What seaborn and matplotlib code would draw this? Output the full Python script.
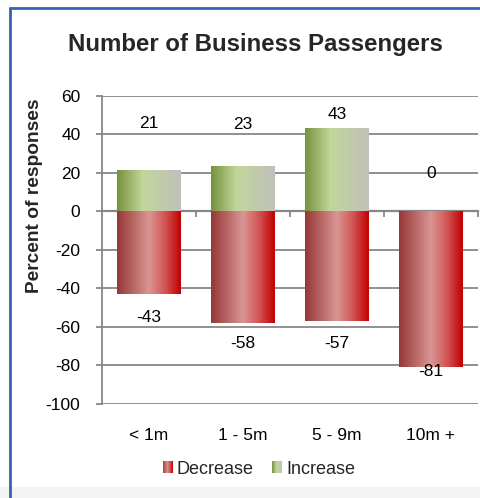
import matplotlib
matplotlib.use("Agg")
import matplotlib.pyplot as plt
import numpy as np
import pandas as pd
import seaborn as sns
from matplotlib.colors import LinearSegmentedColormap
from matplotlib.legend_handler import HandlerBase
from matplotlib.lines import Line2D
from matplotlib.patches import Rectangle

categories = ["< 1m", "1 - 5m", "5 - 9m", "10m +"]
decrease = [-43, -58, -57, -81]
increase = [21, 23, 43, 0]
series = ["Decrease", "Increase"]

# label nudges (points), the source chart places them unevenly
dec_offsets = [-17, -15, -16, -3]
inc_offsets = [34, 31, 10, 27]

grid_grey = "#878787"
dec_cmap = LinearSegmentedColormap.from_list(
    "dec", [(0, "#953735"), (0.5, "#D99694"), (0.75, "#D35555"), (1, "#C00000")])
inc_cmap = LinearSegmentedColormap.from_list(
    "inc", [(0, "#76923C"), (0.4, "#C3D69B"), (1, "#C0C0BA")])
cmaps = {"Decrease": dec_cmap, "Increase": inc_cmap}


class GradientHandler(HandlerBase):
    def __init__(self, cmap):
        super().__init__()
        self.cmap = cmap

    def create_artists(self, legend, orig_handle, xdescent, ydescent,
                       width, height, fontsize, trans):
        n = 12
        return [Rectangle((-xdescent + i * width / n, -ydescent), width / n, height,
                          facecolor=self.cmap((i + 0.5) / n), edgecolor="none",
                          transform=trans) for i in range(n)]


sns.set_style("white")
plt.rcParams["font.family"] = ["Liberation Sans", "DejaVu Sans"]
plt.rcParams["axes.unicode_minus"] = False

df = pd.DataFrame({
    "category": categories * 2,
    "series": [series[0]] * len(categories) + [series[1]] * len(categories),
    "value": decrease + increase,
})

fig = plt.figure(figsize=(4.8, 4.98), dpi=100)
ax = fig.add_axes([0.2125, 0.1888, 0.7833, 0.6185])
sns.barplot(data=df, x="category", y="value", hue="series", hue_order=series,
            order=categories, palette={"Decrease": "#C0504D", "Increase": "#9BBB59"},
            dodge=False, width=0.68, errorbar=None, ax=ax)

handles, labels = ax.get_legend_handles_labels()
ax.get_legend().remove()

grad = np.linspace(0, 1, 256).reshape(1, -1)
for name, container, vals, offs in zip(series, ax.containers,
                                       [decrease, increase], [dec_offsets, inc_offsets]):
    for bar, v, off in zip(container, vals, offs):
        x0, w = bar.get_x(), bar.get_width()
        y0, h = bar.get_y(), bar.get_height()
        bar.set_facecolor("none")
        bar.set_edgecolor("none")
        if h != 0:
            ax.imshow(grad, extent=[x0, x0 + w, min(y0, y0 + h), max(y0, y0 + h)],
                      aspect="auto", cmap=cmaps[name], clip_path=bar, zorder=2)
        ax.annotate(f"{v}", (x0 + w / 2, y0 + h), xytext=(0, off),
                    textcoords="offset points", ha="center", va="center",
                    fontsize=12.5, color="black")

ax.set_xlim(-0.5, len(categories) - 0.5)
ax.set_ylim(-100, 60)
ax.set_yticks(range(-100, 61, 20))
ax.set_xlabel("")
ax.set_ylabel("")
ax.set_axisbelow(True)
ax.yaxis.grid(True, color=grid_grey, linewidth=1.3)
ax.xaxis.grid(False)
for s in ["top", "right", "bottom"]:
    ax.spines[s].set_visible(False)
ax.spines["left"].set_color(grid_grey)
ax.spines["left"].set_linewidth(1.3)
ax.tick_params(axis="y", length=4.5, width=1.3, color=grid_grey, pad=11,
               labelsize=12.5, labelcolor="black", left=True)
ax.tick_params(axis="x", length=0, pad=17, labelsize=12.5, labelcolor="black")

# category axis crossing at zero
sec = ax.secondary_xaxis(0, transform=ax.transData)
sec.set_xticks(np.arange(len(categories)) + 0.5, labels=[])
sec.tick_params(length=4, width=1.3, color=grid_grey, direction="out")
sec.spines["bottom"].set_color(grid_grey)
sec.spines["bottom"].set_linewidth(1.6)

fig.text(255 / 480, 1 - 45 / 498, "Number of Business Passengers",
         ha="center", va="center", fontsize=17.3, fontweight="bold")
fig.text(35 / 480, 1 - 196 / 498, "Percent of responses", rotation=90,
         ha="center", va="center", fontsize=13.8, fontweight="bold")

fig.legend(handles, labels, loc="center", bbox_to_anchor=(259 / 480, 1 - 469 / 498),
           ncol=2, frameon=False, fontsize=13, handlelength=0.55, handleheight=0.6,
           handletextpad=0.22, columnspacing=1.05,
           handler_map={handles[0]: GradientHandler(dec_cmap),
                        handles[1]: GradientHandler(inc_cmap)})

# chart-area frame bits
fig.add_artist(Rectangle((0, 0), 1, 11 / 498, transform=fig.transFigure,
                         facecolor="#F3F3F3", edgecolor="none", zorder=-1))
fig.add_artist(Line2D([10 / 480, 10 / 480], [0, 1 - 8 / 498], transform=fig.transFigure,
                      color="#3565B0", linewidth=2))
fig.add_artist(Line2D([10 / 480, 1], [1 - 8 / 498, 1 - 8 / 498], transform=fig.transFigure,
                      color="#3565B0", linewidth=2))

fig.savefig("out.png", dpi=100)
